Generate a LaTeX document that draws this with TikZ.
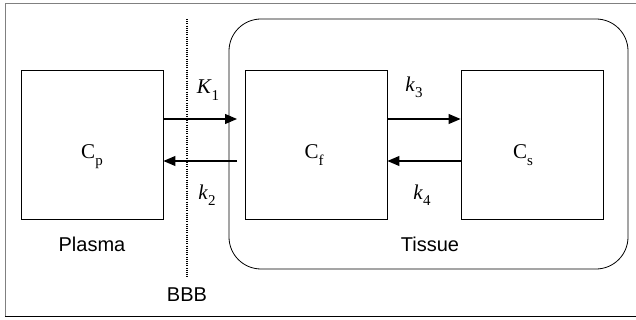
\documentclass[tikz,border=0pt]{standalone}
\usepackage{fontspec}
\setmainfont{Liberation Serif}
\setsansfont{Liberation Sans}
\usetikzlibrary{arrows.meta}
\newcommand{\sbs}[1]{\raisebox{-0.3em}{\fontsize{15}{18}\selectfont #1}}
\begin{document}
\begin{tikzpicture}[x=1pt,y=-1pt,
  comp/.style={draw,line width=0.9pt,minimum width=142pt,minimum height=149pt,inner sep=0pt},
  ctext/.style={font=\fontsize{21}{24}\selectfont,anchor=base,inner sep=0pt},
  flow/.style={line width=1.1pt,-{Triangle[length=12pt,width=10pt]}},
  rate/.style={font=\fontsize{21}{24}\selectfont},
  lab/.style={font=\sffamily\fontsize{20}{24}\selectfont}]
\useasboundingbox (0,0) rectangle (636,320);
\draw[gray,line width=0.8pt] (5,316) -- (5,3) -- (636,3);
\draw[line width=1pt] (5,316) -- (636,316);
\node[draw,line width=0.8pt,rounded corners=32pt,minimum width=399pt,minimum height=250pt,inner sep=0pt] (tissue) at (428.5,144) {};
\node[comp] (cp) at (92,144.5) {};
\node[comp] (cf) at (316,144.5) {};
\node[comp] (cs) at (532,144.5) {};
\node[ctext] (cpt) at (92,159) {C\sbs{p}};
\node[ctext] (cft) at (314,159) {C\sbs{f}};
\node[ctext] (cst) at (523,159) {C\sbs{s}};
\coordinate (bbbtop) at (187,19);
\coordinate (bbbbot) at (187,277);
\draw[line width=1.3pt,dash pattern=on 1pt off 1.2pt] (bbbtop) -- (bbbbot);
\coordinate (kin) at (237,119);
\coordinate (kout) at (237,161);
\draw[flow] (cp.east |- kin) -- (kin);
\draw[flow] (kout) -- (cp.east |- kout);
\draw[flow] (cf.east |- kin) -- (cs.west |- kin);
\draw[flow] (cs.west |- kout) -- (cf.east |- kout);
\node[rate] (K1) at (208,90) {\textit{K}\sbs{1}};
\node[rate] (k2) at (207,195) {\textit{k}\sbs{2}};
\node[rate] (k3) at (414,87) {\textit{k}\sbs{3}};
\node[rate] (k4) at (422,195) {\textit{k}\sbs{4}};
\node[lab] (plasma) at (92,244) {Plasma};
\node[lab] (tis) at (430,244) {Tissue};
\node[lab] (bbb) at (187,295) {BBB};
\end{tikzpicture}
\end{document}
